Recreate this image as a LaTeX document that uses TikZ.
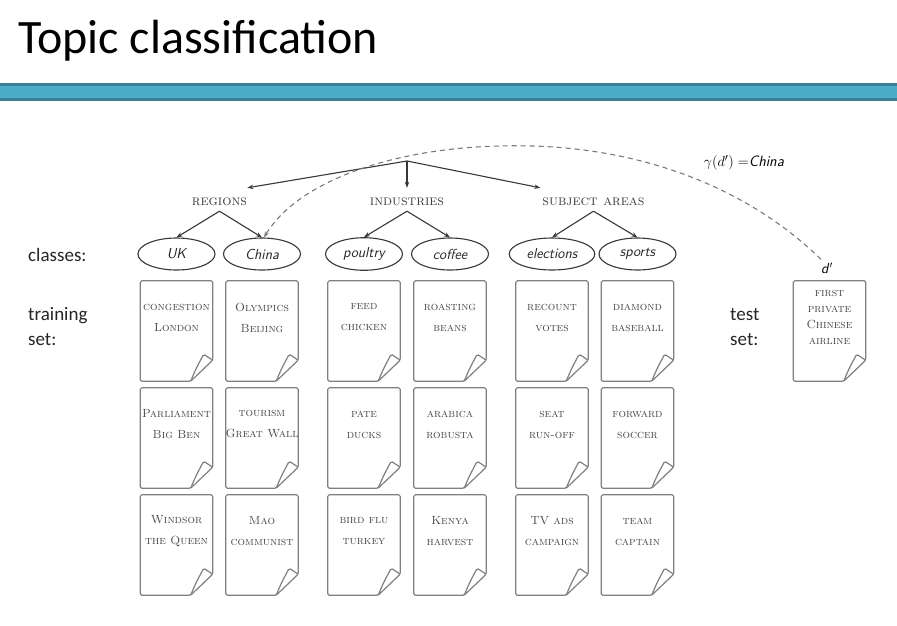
\documentclass[tikz,border=0pt]{standalone}
\usepackage{fontspec}
\newfontfamily\slidefont{Carlito}
\usetikzlibrary{shapes.geometric,arrows.meta}
\definecolor{barblue}{HTML}{4BACC6}
\definecolor{bardark}{HTML}{3A7F92}
\definecolor{inkdark}{HTML}{383838}
\definecolor{docgray}{HTML}{808080}
\definecolor{doctxt}{HTML}{474747}
\definecolor{cattxt}{HTML}{3C3C3C}
\definecolor{dashgray}{HTML}{7A7A7A}
\tikzset{
  docbody/.style={draw=none,minimum width=72pt,minimum height=100pt,inner sep=0pt},
  docline/.style={draw=docgray,line width=1.2pt,rounded corners=1.5pt,line join=round},
  doctext/.style={inner sep=0pt,align=center,text=doctxt,font=\fontsize{11.8}{21}\selectfont\scshape},
  testtext/.style={inner sep=0pt,align=center,text=doctxt,font=\fontsize{11.8}{16.3}\selectfont\scshape},
  cls/.style={ellipse,draw=inkdark,line width=1.1pt,minimum width=77pt,minimum height=32pt,inner sep=5pt,
    font=\fontsize{14.5}{17}\selectfont\sffamily\itshape,text=black!85},
  cat/.style={inner sep=0pt,text height=8pt,text depth=0pt,text=cattxt,font=\fontsize{14.5}{17}\selectfont\scshape},
  arr/.style={draw=inkdark,line width=1.1pt,-{Stealth[length=6pt,width=4.5pt]}},
  dasharr/.style={draw=dashgray,line width=1.1pt,dash pattern=on 5pt off 4pt,-{Stealth[length=6pt,width=4.5pt]}},
  lbl/.style={inner sep=0pt,anchor=base west,font=\slidefont\fontsize{19}{23}\selectfont,text=black!85}
}
\newcommand\mydoc[5]{%
  \node[docbody] (#1) at (#2,-#3) {};
  \draw[docline] (#1.north west) -- (#1.north east) -- ([yshift=21pt]#1.south east)
     -- ([xshift=-22pt]#1.south east) -- (#1.south west) -- cycle;
  \draw[docline] ([xshift=-22pt]#1.south east) .. controls ([xshift=-17pt,yshift=12pt]#1.south east)
     .. ([xshift=-9pt,yshift=27pt]#1.south east) -- ([yshift=21pt]#1.south east);
  \node[#5] (#1-t) at ([yshift=13.5pt]#1.center) {#4};
}
\begin{document}
\begin{tikzpicture}[x=1pt,y=1pt]
\useasboundingbox (0,0) rectangle (897,-625);
\fill[white] (0,0) rectangle (897,-625);
% title and bar
\node[anchor=base west,inner sep=0pt,font=\slidefont\fontsize{48}{56}\selectfont] (title) at (18,-53) {Topic classification};
\fill[bardark] (0,-83) rectangle (897,-101);
\fill[barblue] (0,-86) rectangle (897,-98);
% root and categories
\coordinate (root) at (407,-161);
\node[cat] (reg) at (219.5,-201) {regions};
\node[cat] (ind) at (407,-201) {industries};
\node[cat] (subj) at (593.5,-201) {subject areas};
\draw[arr] (root) -- ([yshift=9pt]reg.north east);
\draw[arr] (root) -- ([yshift=9pt]ind.north);
\draw[arr] (root) -- ([xshift=-2pt,yshift=9pt]subj.north west);
% classes
\node[cls] (uk) at (176.5,-254) {UK};
\node[cls] (china) at (262,-254) {China};
\node[cls] (poultry) at (364,-254) {poultry};
\node[cls] (coffee) at (450,-254) {coffee};
\node[cls] (elections) at (552,-254) {elections};
\node[cls] (sports) at (637.5,-254) {sports};
\draw[arr] ([yshift=-6pt]reg.south) -- (uk.north);
\draw[arr] ([yshift=-6pt]reg.south) -- (china.north);
\draw[arr] ([yshift=-6pt]ind.south) -- (poultry.north);
\draw[arr] ([yshift=-6pt]ind.south) -- (coffee.north);
\draw[arr] ([yshift=-6pt]subj.south) -- (elections.north);
\draw[arr] ([yshift=-6pt]subj.south) -- (sports.north);
% left labels
\node[lbl] (classes) at (28,-261) {classes:};
\node[lbl] (train1) at (28,-320.5) {training};
\node[lbl] (train2) at (28,-345) {set:};
\node[lbl] (test1) at (730,-320.5) {test};
\node[lbl] (test2) at (730,-345) {set:};
% training documents
\mydoc{d11}{176.5}{331}{congestion\\London}{doctext}
\mydoc{d12}{176.5}{438}{Parliament\\Big Ben}{doctext}
\mydoc{d13}{176.5}{545}{Windsor\\the Queen}{doctext}
\mydoc{d21}{262}{331}{Olympics\\Beijing}{doctext}
\mydoc{d22}{262}{438}{tourism\\Great Wall}{doctext}
\mydoc{d23}{262}{545}{Mao\\communist}{doctext}
\mydoc{d31}{364}{331}{feed\\chicken}{doctext}
\mydoc{d32}{364}{438}{pate\\ducks}{doctext}
\mydoc{d33}{364}{545}{bird flu\\turkey}{doctext}
\mydoc{d41}{450}{331}{roasting\\beans}{doctext}
\mydoc{d42}{450}{438}{arabica\\robusta}{doctext}
\mydoc{d43}{450}{545}{Kenya\\harvest}{doctext}
\mydoc{d51}{552}{331}{recount\\votes}{doctext}
\mydoc{d52}{552}{438}{seat\\run-off}{doctext}
\mydoc{d53}{552}{545}{TV ads\\campaign}{doctext}
\mydoc{d61}{637.5}{331}{diamond\\baseball}{doctext}
\mydoc{d62}{637.5}{438}{forward\\soccer}{doctext}
\mydoc{d63}{637.5}{545}{team\\captain}{doctext}
% test document
\mydoc{dt}{829.5}{331}{first\\private\\Chinese\\airline}{testtext}
\node[inner sep=0pt,font=\fontsize{14.5}{17}\selectfont] (dprime) at (827,-268) {\textsf{\textit{d}}$'$};
\node[inner sep=0pt,font=\fontsize{15}{18}\selectfont] (gamma) at (744,-163) {$\gamma(d')\;{=}$\textsf{\textit{China}}};
\draw[dasharr] ([xshift=-6pt,yshift=3pt]dprime.north) .. controls (750,-190) and (640,-142) .. (500,-146)
   .. controls (400,-148) and (300,-178) .. ([xshift=2pt]china.north);
\end{tikzpicture}
\end{document}
